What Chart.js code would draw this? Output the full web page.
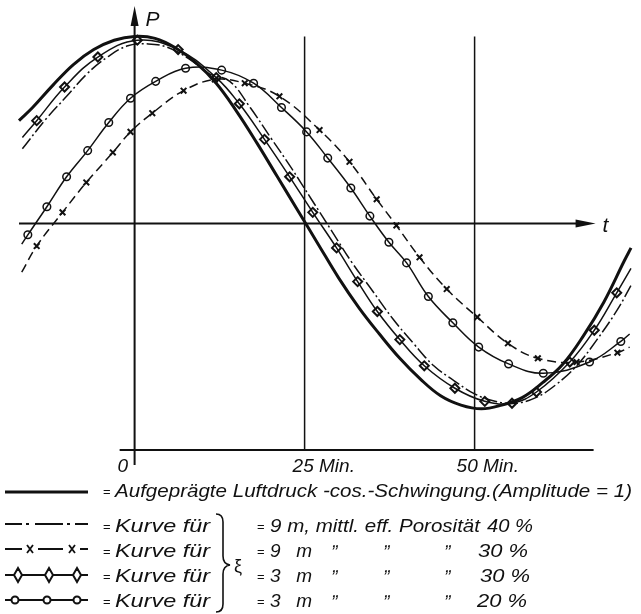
<!DOCTYPE html>
<html>
<head>
<meta charset="utf-8">
<script src="https://cdn.jsdelivr.net/npm/chart.js@4.4.0/dist/chart.umd.min.js"></script>
<style>
  body { margin: 0; background: #fff; }
  #wrap { position: relative; width: 641px; height: 614px; }
  #myChart, #legend { position: absolute; left: 0; top: 0; }
  #legend text { font-family: "Liberation Sans", Arial, sans-serif; font-style: italic; font-size: 19px; fill: #111; }
  #legend text.eq { font-size: 13px; font-style: normal; }
</style>
</head>
<body>
<div id="wrap">
  <canvas id="myChart" width="641" height="614"></canvas>
  <svg id="legend" width="641" height="614">
    <!-- row 1 -->
    <line x1="5" y1="492" x2="88" y2="492" stroke="#111" stroke-width="3"/>
    <text class="eq" x="103" y="496">=</text>
    <text x="115" y="497" textLength="517" lengthAdjust="spacingAndGlyphs">Aufgeprägte Luftdruck -cos.-Schwingung.(Amplitude = 1)</text>
    <!-- row 2 -->
    <path d="M5,524 H22 M26,524 H29 M35,524 H63 M67,524 H70 M75,524 H88" stroke="#111" stroke-width="2"/>
    <!-- row 3 -->
    <path d="M5,549 H22 M38,549 H63 M80,549 H88" stroke="#111" stroke-width="2"/>
    <path d="M27,545 L33,553 M33,545 L27,553 M69,545 L75,553 M75,545 L69,553" stroke="#111" stroke-width="1.8"/>
    <!-- row 4 -->
    <line x1="5" y1="575" x2="88" y2="575" stroke="#111" stroke-width="2"/>
    <path d="M18,568 L22,575 L18,582 L14,575 Z M49,568 L53,575 L49,582 L45,575 Z M77,568 L81,575 L77,582 L73,575 Z" fill="#fff" stroke="#111" stroke-width="2"/>
    <!-- row 5 -->
    <line x1="5" y1="600" x2="88" y2="600" stroke="#111" stroke-width="2"/>
    <circle cx="15" cy="600" r="3.5" fill="#fff" stroke="#111" stroke-width="2"/>
    <circle cx="47" cy="600" r="3.5" fill="#fff" stroke="#111" stroke-width="2"/>
    <circle cx="77" cy="600" r="3.5" fill="#fff" stroke="#111" stroke-width="2"/>
    <text class="eq" x="103" y="531">=</text><text x="115" y="532" textLength="95" lengthAdjust="spacingAndGlyphs">Kurve für</text>
    <text class="eq" x="103" y="556">=</text><text x="115" y="557" textLength="95" lengthAdjust="spacingAndGlyphs">Kurve für</text>
    <text class="eq" x="103" y="581">=</text><text x="115" y="582" textLength="95" lengthAdjust="spacingAndGlyphs">Kurve für</text>
    <text class="eq" x="103" y="606">=</text><text x="115" y="607" textLength="95" lengthAdjust="spacingAndGlyphs">Kurve für</text>
    <!-- brace and xi -->
    <path d="M216,514 Q223,514 223,522 L223,556 Q223,564 230,565 Q223,566 223,574 L223,604 Q223,612 216,612" fill="none" stroke="#111" stroke-width="1.6"/>
    <text x="234" y="572" style="font-style: normal; font-size: 18px;">ξ</text>
    <!-- right column -->
    <text class="eq" x="257" y="531">=</text>
    <text x="270" y="532" textLength="210" lengthAdjust="spacingAndGlyphs">9 m, mittl. eff. Porosität</text>
    <text x="487" y="532" textLength="46" lengthAdjust="spacingAndGlyphs">40 %</text>
    <text class="eq" x="257" y="556">=</text>
    <text x="270" y="557" textLength="42" lengthAdjust="spacing">9 m</text>
    <text x="333" y="547">„</text><text x="385" y="547">„</text><text x="446" y="547">„</text>
    <text x="478" y="557" textLength="50" lengthAdjust="spacingAndGlyphs">30 %</text>
    <text class="eq" x="257" y="581">=</text>
    <text x="270" y="582" textLength="42" lengthAdjust="spacing">3 m</text>
    <text x="333" y="572">„</text><text x="385" y="572">„</text><text x="446" y="572">„</text>
    <text x="480" y="582" textLength="50" lengthAdjust="spacingAndGlyphs">30 %</text>
    <text class="eq" x="257" y="606">=</text>
    <text x="270" y="607" textLength="42" lengthAdjust="spacing">3 m</text>
    <text x="333" y="597">„</text><text x="385" y="597">„</text><text x="446" y="597">„</text>
    <text x="477" y="607" textLength="50" lengthAdjust="spacingAndGlyphs">20 %</text>
  </svg>
</div>
<script>
// time in minutes, P as fraction of amplitude
const tForced = [-17, -15, -12, -9, -6, -3, 0, 3, 6, 9, 12, 15, 18, 21, 24, 27, 30, 33, 36, 39, 42, 45, 48, 51, 54, 57, 60, 63, 66, 69, 72, 73];
const pForced = [0.55, 0.62, 0.74, 0.85, 0.93, 0.98, 1.0, 0.99, 0.94, 0.86, 0.75, 0.60, 0.43, 0.25, 0.07, -0.11, -0.29, -0.45, -0.59, -0.72, -0.83, -0.92, -0.97, -0.99, -0.97, -0.93, -0.85, -0.75, -0.60, -0.42, -0.20, -0.13];

// xi = 9 m, porosity 40 %
const tDashDot = [-16.5, -13, -10, -7, -4, -1, 2, 5, 8, 11, 14, 17, 20, 23, 26, 29, 32, 35, 38, 41, 44, 47, 50, 53, 56, 59, 62, 65, 68, 71, 73];
const pDashDot = [0.40, 0.56, 0.68, 0.80, 0.89, 0.95, 0.96, 0.94, 0.88, 0.80, 0.76, 0.62, 0.46, 0.30, 0.13, -0.04, -0.21, -0.36, -0.51, -0.64, -0.76, -0.84, -0.91, -0.95, -0.96, -0.93, -0.86, -0.76, -0.62, -0.46, -0.33];

// xi = 9 m, porosity 30 %
const tCross = [-16.6, -14.4, -10.6, -7.1, -3.2, -0.6, 2.6, 7.2, 11.8, 16.2, 21.3, 27.2, 31.6, 35.6, 38.5, 41.9, 45.9, 50.4, 54.9, 59.3, 65.0, 71.0, 72.8];
const pCross = [-0.26, -0.12, 0.06, 0.22, 0.38, 0.49, 0.59, 0.71, 0.77, 0.75, 0.68, 0.50, 0.33, 0.13, -0.01, -0.18, -0.35, -0.50, -0.64, -0.72, -0.74, -0.69, -0.66];

// xi = 3 m, porosity 30 %
const tDiamond = [-16.5, -14.4, -10.3, -5.4, 0.4, 6.4, 12, 15.4, 19.1, 22.8, 26.2, 29.7, 32.8, 35.7, 39, 42.6, 47.1, 51.5, 55.5, 59.1, 64, 67.6, 70.9, 73];
const pDiamond = [0.46, 0.55, 0.73, 0.89, 0.98, 0.93, 0.78, 0.64, 0.45, 0.25, 0.06, -0.13, -0.31, -0.47, -0.62, -0.76, -0.88, -0.95, -0.96, -0.90, -0.74, -0.57, -0.37, -0.24];

// xi = 3 m, porosity 20 %
const tCircle = [-16.6, -15.7, -12.9, -10.0, -6.9, -3.8, -0.6, 3.1, 7.5, 12.8, 17.5, 21.6, 25.3, 28.4, 31.8, 34.6, 37.4, 40.0, 43.2, 46.8, 50.6, 55.0, 60.1, 66.9, 71.5, 72.8];
const pCircle = [-0.11, -0.06, 0.09, 0.25, 0.39, 0.54, 0.67, 0.76, 0.83, 0.82, 0.75, 0.62, 0.49, 0.35, 0.19, 0.04, -0.10, -0.21, -0.39, -0.53, -0.66, -0.75, -0.80, -0.74, -0.63, -0.59];

const xTicks = [0, 25, 50];
const xTickLabels = ["0", "25 Min.", "50 Min."];

const pts = (ts, ps) => ts.map((t, i) => ({ x: t, y: ps[i] }));
// line ends carry no marker
const endless = (r) => (c) => (c.dataIndex === 0 || c.dataIndex === c.dataset.data.length - 1) ? 0 : r;

const ink = "#111";

const axesPlugin = {
  id: "axes",
  beforeDatasetsDraw(chart) {
    const { ctx, scales: { x, y } } = chart;
    const x0 = x.getPixelForValue(0);
    const y0 = y.getPixelForValue(0);
    const xEnd = x.getPixelForValue(67.5);
    const yBot = y.getPixelForValue(-1.21);
    ctx.save();
    ctx.strokeStyle = ink;
    ctx.fillStyle = ink;
    ctx.lineWidth = 2;
    ctx.beginPath();
    // t axis
    ctx.moveTo(x.getPixelForValue(-17), y0); ctx.lineTo(xEnd - 12, y0);
    // bottom line
    ctx.moveTo(x.getPixelForValue(-2.2), yBot); ctx.lineTo(xEnd, yBot);
    // P axis
    ctx.moveTo(x0, y.getPixelForValue(-1.29)); ctx.lineTo(x0, 20);
    ctx.stroke();
    ctx.lineWidth = 1.5;
    ctx.beginPath();
    [25, 50].forEach(v => {
      const px = x.getPixelForValue(v);
      ctx.moveTo(px, y.getPixelForValue(1.0)); ctx.lineTo(px, yBot);
    });
    ctx.stroke();
    // arrow heads
    ctx.beginPath();
    ctx.moveTo(xEnd + 2, y0); ctx.lineTo(xEnd - 18, y0 - 4); ctx.lineTo(xEnd - 18, y0 + 4); ctx.closePath();
    ctx.moveTo(x0, 6); ctx.lineTo(x0 - 4, 26); ctx.lineTo(x0 + 4, 26); ctx.closePath();
    ctx.fill();
    // axis names
    ctx.font = 'italic 21px "Liberation Sans", Arial, sans-serif';
    ctx.textBaseline = "alphabetic";
    ctx.fillText("P", x0 + 11, 26);
    ctx.fillText("t", xEnd + 9, y0 + 8);
    // tick labels
    ctx.font = 'italic 19px "Liberation Sans", Arial, sans-serif';
    const off = [-17, -12, -18];
    xTicks.forEach((v, i) => {
      ctx.fillText(xTickLabels[i], x.getPixelForValue(v) + off[i], 472);
    });
    ctx.restore();
  }
};

const ctx = document.getElementById("myChart").getContext("2d");
const myChart = new Chart(ctx, {
  type: "line",
  data: {
    datasets: [
      {
        label: "Aufgeprägte Luftdruck-cos.-Schwingung",
        data: pts(tForced, pForced),
        borderColor: ink,
        borderWidth: 3,
        pointRadius: 0,
      },
      {
        label: "ξ = 9 m, 40 %",
        data: pts(tDashDot, pDashDot),
        borderColor: ink,
        borderWidth: 1.5,
        borderDash: [13, 3, 2, 3],
        pointRadius: 0,
      },
      {
        label: "ξ = 9 m, 30 %",
        data: pts(tCross, pCross),
        borderColor: ink,
        borderWidth: 1.5,
        borderDash: [9, 5],
        pointStyle: "crossRot",
        pointRadius: endless(4),
        pointBorderWidth: 2,
      },
      {
        label: "ξ = 3 m, 30 %",
        data: pts(tDiamond, pDiamond),
        borderColor: ink,
        borderWidth: 1.5,
        pointStyle: "rectRot",
        pointRadius: endless(4.5),
        pointBorderWidth: 2,
        pointBackgroundColor: "rgba(255,255,255,0)",
      },
      {
        label: "ξ = 3 m, 20 %",
        data: pts(tCircle, pCircle),
        borderColor: ink,
        borderWidth: 1.5,
        pointStyle: "circle",
        pointRadius: endless(3.8),
        pointBorderWidth: 1.5,
        pointBackgroundColor: "rgba(255,255,255,0)",
      },
    ],
  },
  options: {
    responsive: false,
    animation: false,
    devicePixelRatio: 1,
    clip: false,
    layout: { padding: { left: 19, right: 10, top: 14, bottom: 164 } },
    elements: { line: { tension: 0.4 } },
    plugins: { legend: { display: false }, tooltip: { enabled: false } },
    scales: {
      x: { type: "linear", min: -17, max: 73, display: false },
      y: { min: -1.21, max: 1.12, display: false },
    },
  },
  plugins: [axesPlugin],
});
</script>
</body>
</html>
